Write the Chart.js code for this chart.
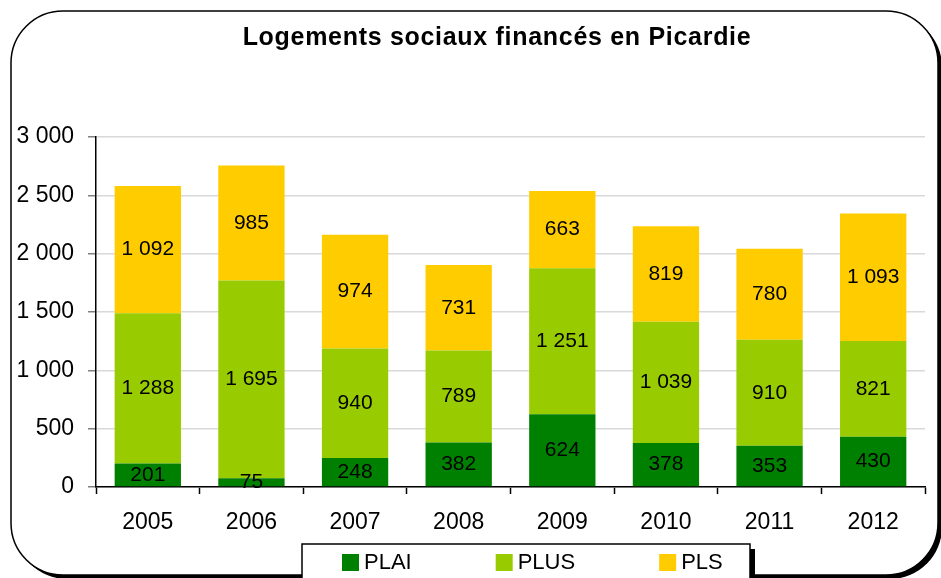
<!DOCTYPE html>
<html>
<head>
<meta charset="utf-8">
<script src="https://cdn.jsdelivr.net/npm/chart.js@4.4.1/dist/chart.umd.min.js"></script>
<style>
    html, body { margin: 0; padding: 0; background: #fff; }
    .chart-container { width: 941px; height: 578px; position: relative; }
</style>
</head>
<body>
<div class="chart-container">
    <canvas id="logementsChart"></canvas>
</div>

<script>
    // Values
    const years = ['2005', '2006', '2007', '2008', '2009', '2010', '2011', '2012'];
    const plai = [201, 75, 248, 382, 624, 378, 353, 430];
    const plus = [1288, 1695, 940, 789, 1251, 1039, 910, 821];
    const pls = [1092, 985, 974, 731, 663, 819, 780, 1093];
    const seriesNames = ['PLAI', 'PLUS', 'PLS'];
    const seriesColors = ['#008000', '#99CC00', '#FFCC00'];
    const titleText = 'Logements sociaux financés en Picardie';

    const FONT = '"Liberation Sans", Arial, sans-serif';

    function fmt(v) {
        return String(v).replace(/\B(?=(\d{3})+(?!\d))/g, ' ');
    }

    function roundRect(ctx, x, y, w, h, r) {
        ctx.beginPath();
        ctx.moveTo(x + r, y);
        ctx.lineTo(x + w - r, y);
        ctx.arcTo(x + w, y, x + w, y + r, r);
        ctx.lineTo(x + w, y + h - r);
        ctx.arcTo(x + w, y + h, x + w - r, y + h, r);
        ctx.lineTo(x + r, y + h);
        ctx.arcTo(x, y + h, x, y + h - r, r);
        ctx.lineTo(x, y + r);
        ctx.arcTo(x, y, x + r, y, r);
        ctx.closePath();
    }

    // rounded frame with shadow + title
    const framePlugin = {
        id: 'frame',
        beforeDraw(chart) {
            const ctx = chart.ctx;
            ctx.save();
            ctx.fillStyle = '#fff';
            ctx.fillRect(0, 0, chart.width, chart.height);
            roundRect(ctx, 15, 15, 927, 564, 52);
            ctx.fillStyle = '#000';
            ctx.fill();
            roundRect(ctx, 11, 11, 927, 564, 52);
            ctx.fillStyle = '#fff';
            ctx.fill();
            ctx.lineWidth = 1.5;
            ctx.strokeStyle = '#000';
            ctx.stroke();

            ctx.font = 'bold 25px ' + FONT;
            ctx.letterSpacing = '0.7px';
            ctx.fillStyle = '#000';
            ctx.textAlign = 'center';
            ctx.textBaseline = 'alphabetic';
            ctx.fillText(titleText, 497, 45);
            ctx.restore();
        }
    };

    // values inside each stacked segment
    const valueLabels = {
        id: 'valueLabels',
        afterDatasetsDraw(chart) {
            const ctx = chart.ctx;
            ctx.save();
            ctx.font = '21px ' + FONT;
            ctx.fillStyle = '#000';
            ctx.textAlign = 'center';
            ctx.textBaseline = 'middle';
            chart.data.datasets.forEach((ds, i) => {
                chart.getDatasetMeta(i).data.forEach((bar, j) => {
                    const y = (bar.y + bar.base) / 2;
                    ctx.fillText(fmt(ds.data[j]), bar.x, y);
                });
            });
            ctx.restore();
        }
    };

    // boxed legend at the bottom
    const boxLegend = {
        id: 'boxLegend',
        afterDraw(chart) {
            const ctx = chart.ctx;
            ctx.save();
            ctx.fillStyle = '#000';
            ctx.fillRect(307, 549, 448, 60);
            ctx.fillStyle = '#fff';
            ctx.fillRect(302, 544, 448, 60);
            ctx.lineWidth = 1.5;
            ctx.strokeStyle = '#000';
            ctx.strokeRect(302, 544, 448, 60);

            ctx.font = '22px ' + FONT;
            ctx.textBaseline = 'middle';
            ctx.textAlign = 'left';
            let x = 342;
            chart.data.datasets.forEach(ds => {
                ctx.fillStyle = ds.backgroundColor;
                ctx.fillRect(x, 554, 17, 17);
                ctx.fillStyle = '#000';
                ctx.fillText(ds.label, x + 22, 563);
                x += 22 + ctx.measureText(ds.label).width + 84;
            });
            ctx.restore();
        }
    };

    const ctx = document.getElementById('logementsChart').getContext('2d');
    new Chart(ctx, {
        type: 'bar',
        data: {
            labels: years,
            datasets: [plai, plus, pls].map((values, i) => ({
                label: seriesNames[i],
                data: values,
                backgroundColor: seriesColors[i],
                borderWidth: 0,
                barPercentage: 0.64,
                categoryPercentage: 1.0
            }))
        },
        options: {
            responsive: true,
            maintainAspectRatio: false,
            animation: false,
            layout: {
                padding: { left: 10, right: 16, top: 137, bottom: 0 }
            },
            plugins: {
                legend: { display: false },
                title: { display: false },
                tooltip: { enabled: false }
            },
            scales: {
                x: {
                    stacked: true,
                    offset: true,
                    grid: {
                        offset: true,
                        drawOnChartArea: false,
                        tickLength: 7,
                        tickColor: '#000',
                        tickWidth: 1.5
                    },
                    border: { color: '#000', width: 1.5 },
                    ticks: {
                        color: '#000',
                        padding: 15,
                        font: { family: FONT, size: 23 }
                    },
                    afterFit(scale) { scale.height = 91; }
                },
                y: {
                    stacked: true,
                    min: 0,
                    max: 3000,
                    grid: {
                        color: '#d9d9d9',
                        lineWidth: 1.5,
                        tickLength: 8,
                        tickColor: '#808080'
                    },
                    border: { color: '#000', width: 1.5 },
                    ticks: {
                        stepSize: 500,
                        color: '#000',
                        padding: 14,
                        font: { family: FONT, size: 23 },
                        callback: v => fmt(v)
                    },
                    afterFit(scale) { scale.width = 86; }
                }
            }
        },
        plugins: [framePlugin, valueLabels, boxLegend]
    });
</script>
</body>
</html>
